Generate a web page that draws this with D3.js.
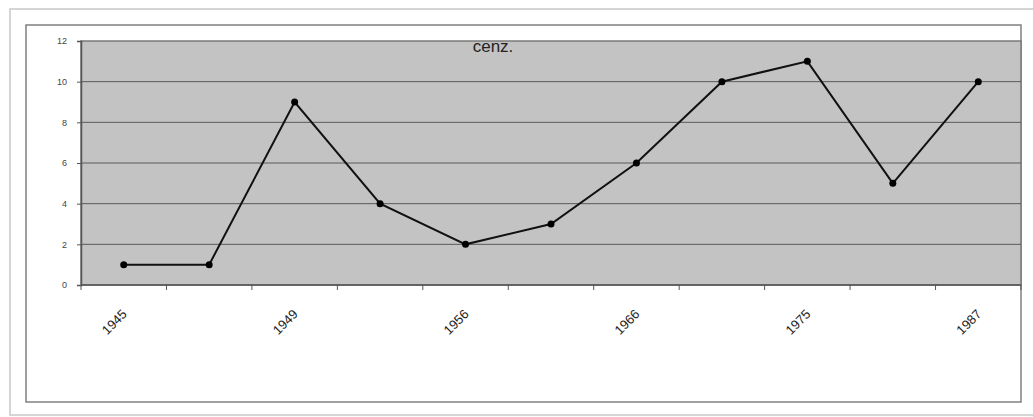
<!DOCTYPE html>
<html>
<head>
<meta charset="utf-8">
<script src="https://cdn.jsdelivr.net/npm/d3@7"></script>
<style>
  body { margin: 0; background: #fff; }
  svg { display: block; font-family: "Liberation Sans", Arial, sans-serif; }
</style>
</head>
<body>
<svg id="chart"></svg>
<script>
// data
var categories = ["1945", "1947", "1949", "1952", "1956", "1961", "1966", "1970", "1975", "1980", "1987"];
var shownLabels = ["1945", "1949", "1956", "1966", "1975", "1987"];
var values = [1, 1, 9, 4, 2, 3, 6, 10, 11, 5, 10];
var yTicks = [0, 2, 4, 6, 8, 10, 12];
var title = "cenz.";

const width = 1033, height = 417;
const plot = { left: 81, right: 1021, top: 41, bottom: 285 };

let svg = d3.select("#chart").attr("width", width).attr("height", height);

// outer sheet frame
svg.append("rect")
   .attr("x", 10).attr("y", 9)
   .attr("width", 1040).attr("height", 406)
   .attr("fill", "none").attr("stroke", "#c8c8c8").attr("stroke-width", 1.5);

// chart frame
svg.append("rect")
   .attr("x", 26).attr("y", 25)
   .attr("width", 995).attr("height", 377)
   .attr("fill", "#fff").attr("stroke", "#808080").attr("stroke-width", 1.5);

let x = d3.scaleBand().domain(categories).range([plot.left, plot.right]).padding(0);
let y = d3.scaleLinear().domain([0, 12]).range([plot.bottom, plot.top]);

// plot area
svg.append("rect")
   .attr("x", plot.left).attr("y", plot.top)
   .attr("width", plot.right - plot.left).attr("height", plot.bottom - plot.top)
   .attr("fill", "#c3c3c3").attr("stroke", "#7a7a7a").attr("stroke-width", 1.5);

// grid lines
svg.selectAll(".grid")
   .data(yTicks.slice(1, -1)).enter()
   .append("line")
   .attr("class", "grid")
   .attr("x1", plot.left).attr("x2", plot.right)
   .attr("y1", (d) => y(d)).attr("y2", (d) => y(d))
   .attr("stroke", "#5a5a5a").attr("stroke-width", 1);

// y axis
let y_axis = d3.axisLeft(y).tickValues(yTicks).tickSize(4).tickPadding(10);
let gy = svg.append("g").attr("transform", `translate(${plot.left},0)`).call(y_axis);
gy.select(".domain").attr("stroke", "#555").attr("stroke-width", 1.5);
gy.selectAll(".tick line").attr("stroke", "#555");
gy.selectAll(".tick text").attr("fill", "#444").style("font-size", "9px");

// x axis: ticks between categories
let tickPos = categories.map((d) => x(d)).concat([plot.right]);
let gx = svg.append("g");
gx.append("line")
  .attr("x1", plot.left).attr("x2", plot.right)
  .attr("y1", plot.bottom).attr("y2", plot.bottom)
  .attr("stroke", "#555").attr("stroke-width", 1.5);
gx.selectAll(".xtick")
  .data(tickPos).enter()
  .append("line")
  .attr("class", "xtick")
  .attr("x1", (d) => d).attr("x2", (d) => d)
  .attr("y1", plot.bottom).attr("y2", plot.bottom + 5)
  .attr("stroke", "#555").attr("stroke-width", 1);
gx.selectAll(".xlabel")
  .data(categories.filter((d) => shownLabels.includes(d))).enter()
  .append("text")
  .attr("class", "xlabel")
  .attr("text-anchor", "end")
  .attr("transform", (d) => `translate(${x(d) + x.bandwidth() / 2 + 4},${plot.bottom + 30}) rotate(-45)`)
  .style("font-size", "13px")
  .attr("fill", "#222")
  .text((d) => d);

// line + markers
let line = d3.line()
  .x((d, i) => x(categories[i]) + x.bandwidth() / 2)
  .y((d) => y(d));
svg.append("path")
   .datum(values)
   .attr("d", line)
   .attr("fill", "none").attr("stroke", "#111").attr("stroke-width", 2);
svg.selectAll(".dot")
   .data(values).enter()
   .append("circle")
   .attr("class", "dot")
   .attr("cx", (d, i) => x(categories[i]) + x.bandwidth() / 2)
   .attr("cy", (d) => y(d))
   .attr("r", 3.5)
   .attr("fill", "#000");

// title
svg.append("text")
   .attr("x", 493).attr("y", 52)
   .attr("text-anchor", "middle")
   .style("font-size", "17px")
   .attr("fill", "#222")
   .text(title);
</script>
</body>
</html>
